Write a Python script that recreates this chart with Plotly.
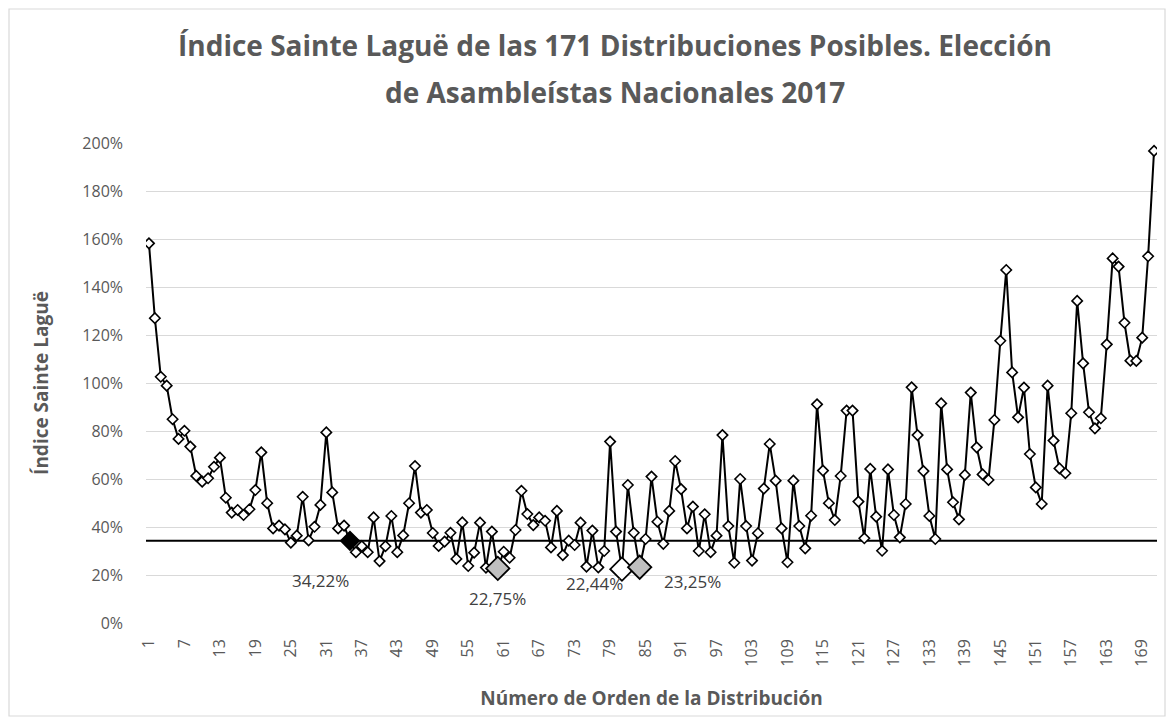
import plotly.graph_objects as go

# ---- data ----
order = list(range(1, 172))
index_pct = [
    158.2, 127.0, 102.6, 98.9, 84.9, 76.7, 80.1, 73.5, 61.3, 58.9,
    60.3, 65.1, 68.9, 52.2, 46.0, 47.1, 45.0, 47.4, 55.4, 71.1,
    49.9, 39.4, 40.6, 39.0, 33.5, 36.4, 52.6, 34.4, 40.1, 49.2,
    79.4, 54.4, 39.4, 40.6, 34.22, 29.5, 32.0, 29.5, 44.0, 25.8,
    32.0, 44.6, 29.5, 36.5, 49.9, 65.4, 46.0, 47.1, 37.5, 32.1,
    33.9, 37.6, 26.7, 41.9, 23.75, 29.3, 41.8, 23.1, 38.1, 22.75,
    29.7, 27.2, 38.75, 55.1, 45.4, 40.8, 44.0, 42.6, 31.5, 46.7,
    28.3, 34.3, 32.5, 41.8, 23.5, 38.5, 23.2, 30.0, 75.6, 38.1,
    22.44, 57.5, 37.6, 23.25, 35.0, 61.0, 42.2, 33.0, 46.7, 67.5,
    55.8, 39.4, 48.5, 30.0, 45.3, 29.5, 36.4, 78.3, 40.4, 25.1,
    60.0, 40.4, 26.0, 37.4, 56.0, 74.6, 59.3, 39.4, 25.3, 59.3,
    40.4, 31.1, 44.7, 91.1, 63.5, 49.9, 42.9, 61.25, 88.5, 88.5,
    50.6, 35.3, 64.2, 44.3, 30.1, 64.0, 45.0, 35.7, 49.6, 98.2,
    78.3, 63.3, 44.6, 35.0, 91.5, 64.0, 50.3, 43.2, 61.7, 96.0,
    73.2, 61.9, 59.6, 84.6, 117.6, 147.1, 104.4, 85.7, 98.1, 70.4,
    56.5, 49.6, 98.9, 76.0, 64.4, 62.4, 87.4, 134.2, 108.2, 87.8,
    81.1, 85.3, 116.1, 151.9, 148.5, 125.1, 109.3, 109.2, 118.9, 152.8,
    196.7,
]
values = [v / 100 for v in index_pct]

reference_value = 0.3422
highlight_order = [35, 60, 81, 84]
highlight_fill = ["#000000", "#bfbfbf", "#ffffff", "#bfbfbf"]
highlight_size = [14, 18, 18, 18]
label_shift_x = [-29, 0, -27, 53]
label_shift_y = [-40, -30, -14, -14]

tick_vals = list(range(1, 172, 6))
y_ticks = [i / 10 for i in range(0, 21, 2)]

TXT = "#595959"
FONT = "Open Sans"

# figure geometry (page has an 8px body margin)
W, H = 1158, 709
ML, MR, MT, MB = 138, 9, 135, 94
PW, PH = W - ML - MR, H - MT - MB

fig = go.Figure()
fig.add_hline(y=reference_value, line=dict(color="black", width=2), layer="below")

fig.add_trace(go.Scatter(
    x=order, y=values, mode="lines+markers",
    line=dict(color="black", width=2),
    marker=dict(symbol="diamond", size=8, color="white",
                line=dict(color="black", width=1.6)),
    showlegend=False, hoverinfo="skip",
))

hy = [values[i - 1] for i in highlight_order]
fig.add_trace(go.Scatter(
    x=highlight_order, y=hy, mode="markers",
    marker=dict(symbol="diamond", size=highlight_size, color=highlight_fill,
                opacity=1, line=dict(color="black", width=1.8)),
    showlegend=False, hoverinfo="skip",
))

for xo, yv, dx, dy in zip(highlight_order, hy, label_shift_x, label_shift_y):
    fig.add_annotation(
        x=xo, y=yv, xref="x", yref="y", showarrow=False,
        text=f"{yv*100:.2f}%".replace(".", ","),
        xshift=dx, yshift=dy,
        font=dict(family=FONT, size=17, color="#404040"),
    )

# title (two lines)
fig.add_annotation(x=0.464, y=1.204, xref="paper", yref="paper", showarrow=False,
                   text="<b>Índice Sainte Laguë de las 171 Distribuciones Posibles. Elección</b>",
                   font=dict(family=FONT, size=28, color=TXT), xanchor="center", yanchor="middle")
fig.add_annotation(x=0.464, y=1.106, xref="paper", yref="paper", showarrow=False,
                   text="<b>de Asambleístas Nacionales 2017</b>",
                   font=dict(family=FONT, size=28, color=TXT), xanchor="center", yanchor="middle")

# chart border
fig.add_shape(type="rect", xref="paper", yref="paper",
              x0=(1 - ML) / PW, x1=(W - 1 - ML) / PW,
              y0=-(MB - 1) / PH, y1=(H - MB - 1) / PH,
              line=dict(color="#d9d9d9", width=1.2), fillcolor="rgba(0,0,0,0)")

fig.update_layout(
    width=W, height=H,
    margin=dict(l=ML, r=MR, t=MT, b=MB, autoexpand=False),
    paper_bgcolor="white", plot_bgcolor="white",
    font=dict(family=FONT, color=TXT),
)
fig.update_xaxes(
    range=[0.5, 171.5], tickmode="array", tickvals=tick_vals,
    ticktext=[str(t) for t in tick_vals], tickangle=-90,
    tickfont=dict(family=FONT, size=16, color=TXT),
    showgrid=False, zeroline=False, showline=False, ticks="",
    ticklabelstandoff=12,
    title=dict(text="<b>Número de Orden de la Distribución</b>",
               font=dict(family=FONT, size=19, color=TXT), standoff=26),
)
fig.update_yaxes(
    range=[0, 2.0], tickmode="array", tickvals=y_ticks, tickformat=".0%",
    tickfont=dict(family=FONT, size=16, color=TXT),
    showgrid=True, gridcolor="#d9d9d9", gridwidth=1.3, zeroline=False,
    showline=False, ticks="", ticklabelstandoff=22,
    title=dict(text="<b>Índice Sainte Laguë</b>",
               font=dict(family=FONT, size=19, color=TXT), standoff=28),
)

fig.write_html("out.html")
